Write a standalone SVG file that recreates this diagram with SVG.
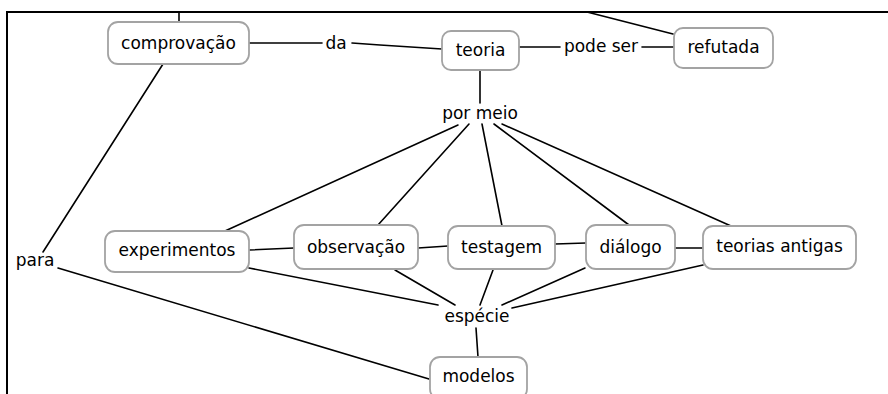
<svg xmlns="http://www.w3.org/2000/svg" width="888" height="394" viewBox="0 0 888 394">
  <style>
    .frame { fill: none; stroke: #000; stroke-width: 2; }
    .link { fill: none; stroke: #000; stroke-width: 1.6; stroke-linecap: round; }
    .box { fill: #fff; stroke: #a3a3a3; stroke-width: 1.8; }
    .lbl { font-family: "DejaVu Sans", Verdana, sans-serif; font-size: 17px; fill: #000; text-anchor: middle; }
  </style>
  <rect width="888" height="394" fill="#fff"/>

  <!-- outer frame: top and left edges -->
  <path class="frame" d="M7 394 V12 H888"/>

  <g id="connectors">
    <line class="link" x1="179" y1="12" x2="179" y2="22"/>
    <line class="link" x1="587" y1="12" x2="673" y2="34"/>
    <line class="link" x1="249" y1="43" x2="322" y2="43"/>
    <polyline class="link" points="352,43 380,45 442,49"/>
    <line class="link" x1="519" y1="47" x2="560" y2="47"/>
    <line class="link" x1="642" y1="47" x2="674" y2="47"/>
    <line class="link" x1="480" y1="70" x2="480" y2="103"/>
    <line class="link" x1="458" y1="125" x2="225" y2="231"/>
    <line class="link" x1="469" y1="124" x2="378" y2="225"/>
    <line class="link" x1="482" y1="124" x2="502" y2="226"/>
    <line class="link" x1="494" y1="124" x2="629" y2="225"/>
    <line class="link" x1="502" y1="124" x2="731" y2="226"/>
    <line class="link" x1="249" y1="250" x2="294" y2="248"/>
    <line class="link" x1="418" y1="248" x2="448" y2="246"/>
    <line class="link" x1="555" y1="244" x2="586" y2="243"/>
    <line class="link" x1="675" y1="248" x2="703" y2="248"/>
    <line class="link" x1="249" y1="268" x2="438" y2="305"/>
    <line class="link" x1="395" y1="270" x2="455" y2="305"/>
    <line class="link" x1="493" y1="270" x2="480" y2="305"/>
    <line class="link" x1="585" y1="268" x2="502" y2="305"/>
    <line class="link" x1="703" y1="265" x2="512" y2="308"/>
    <line class="link" x1="476" y1="328" x2="478" y2="357"/>
    <line class="link" x1="163" y1="64" x2="43" y2="252"/>
    <line class="link" x1="58" y1="268" x2="429" y2="379"/>
  </g>

  <g id="comprovacao"><rect class="box" x="108" y="22" width="141" height="42" rx="10"/><text class="lbl" x="178.5" y="49">comprovação</text></g>
  <g id="teoria"><rect class="box" x="442" y="31" width="77" height="39" rx="9"/><text class="lbl" x="480.5" y="56">teoria</text></g>
  <g id="refutada"><rect class="box" x="674" y="28" width="99" height="40" rx="9"/><text class="lbl" x="723.5" y="53">refutada</text></g>
  <g id="experimentos"><rect class="box" x="105" y="231" width="144" height="41" rx="10"/><text class="lbl" x="177" y="256">experimentos</text></g>
  <g id="observacao"><rect class="box" x="294" y="225" width="124" height="44" rx="10"/><text class="lbl" x="356" y="253">observação</text></g>
  <g id="testagem"><rect class="box" x="448" y="226" width="107" height="43" rx="10"/><text class="lbl" x="501.5" y="253">testagem</text></g>
  <g id="dialogo"><rect class="box" x="586" y="225" width="89" height="44" rx="10"/><text class="lbl" x="630.5" y="253">diálogo</text></g>
  <g id="teorias-antigas"><rect class="box" x="703" y="226" width="153" height="43" rx="10"/><text class="lbl" x="779.5" y="252">teorias antigas</text></g>
  <g id="modelos"><rect class="box" x="430" y="357" width="97" height="42" rx="10"/><text class="lbl" x="478.5" y="382">modelos</text></g>

  <g id="link-labels">
    <text class="lbl" x="336" y="49">da</text>
    <text class="lbl" x="601" y="52">pode ser</text>
    <text class="lbl" x="480" y="119">por meio</text>
    <text class="lbl" x="477" y="322">espécie</text>
    <text class="lbl" x="35" y="266">para</text>
  </g>
</svg>
